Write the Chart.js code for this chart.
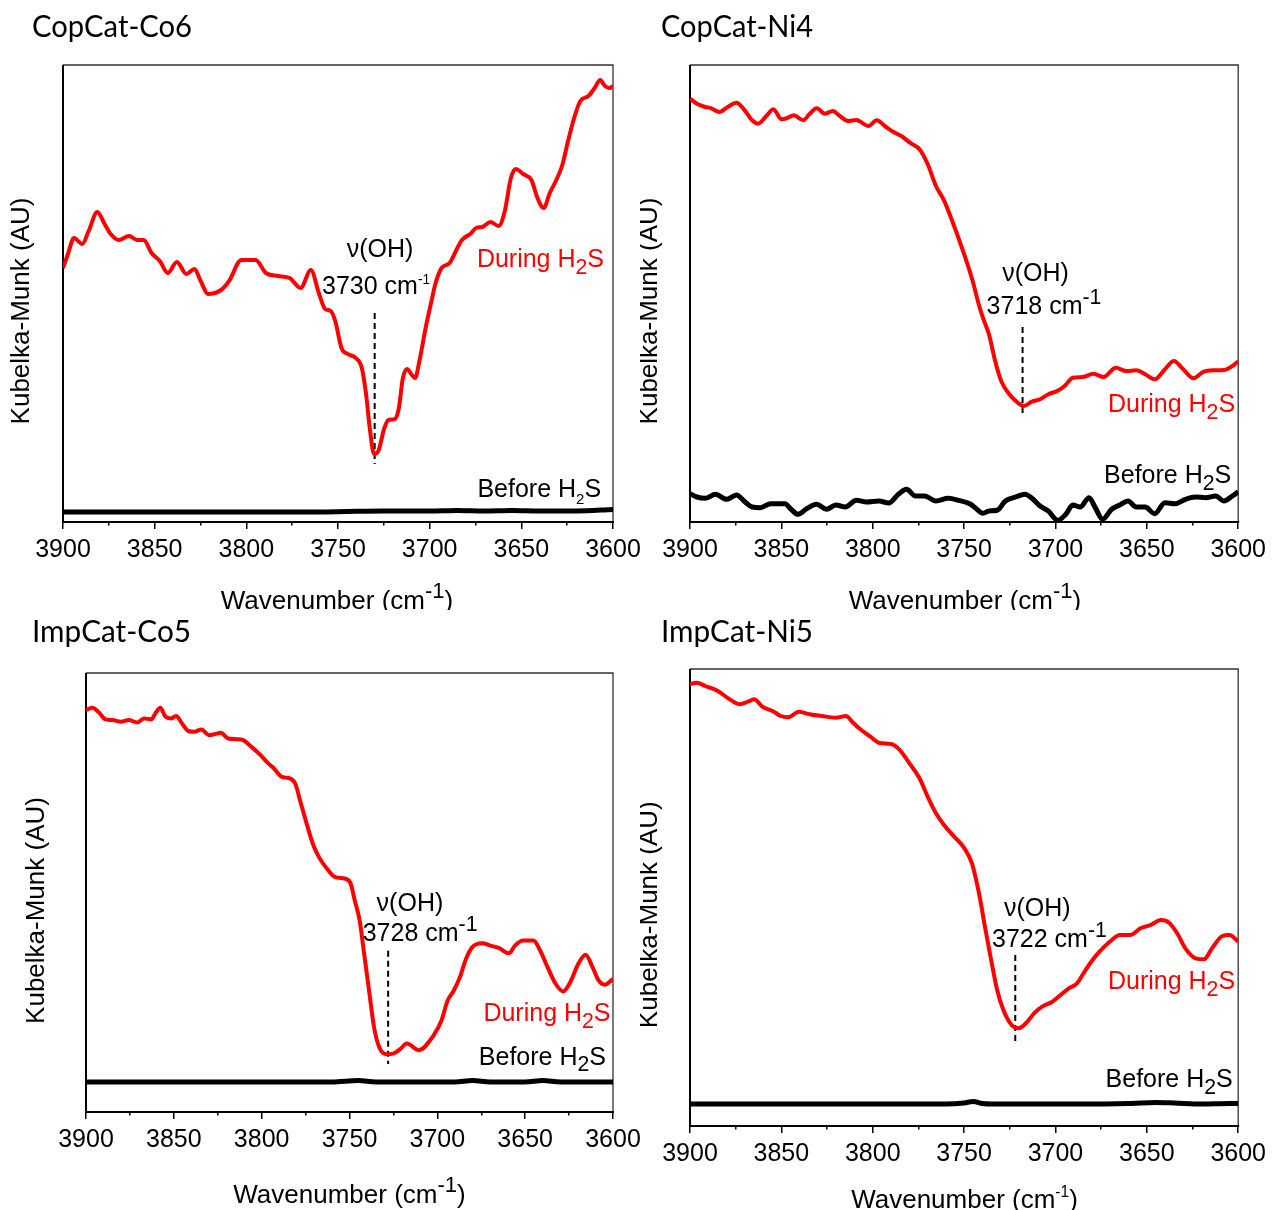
<!DOCTYPE html>
<html><head><meta charset="utf-8">
<script src="https://cdn.jsdelivr.net/npm/chart.js@4.4.1/dist/chart.umd.min.js"></script>
<style>
html,body{margin:0;padding:0;background:#fff;}
body{width:1272px;height:1210px;position:relative;overflow:hidden;}
canvas{position:absolute;}
</style></head><body>
<canvas id="c1" width="650" height="610" style="left:0px;top:0px"></canvas>
<canvas id="c2" width="632" height="610" style="left:640px;top:0px"></canvas>
<canvas id="c3" width="650" height="600" style="left:0px;top:610px"></canvas>
<canvas id="c4" width="632" height="600" style="left:640px;top:610px"></canvas>
<script>
// ---- data (wavenumber cm-1, Kubelka-Munk in arbitrary units) ----
const panelTitles = ['CopCat-Co6','CopCat-Ni4','ImpCat-Co5','ImpCat-Ni5'];
const xTickValues = [3900,3850,3800,3750,3700,3650,3600];
const peakPositions = [3730,3718,3728,3722];
const seriesNames = ['During H2S','Before H2S'];

const co6During = [[3900,254],[3897.3,268],[3894,284],[3889.5,278],[3886,291],[3881.3,310],[3877.3,298],[3874,288],[3869.5,282],[3864,286],[3859.5,282],[3856,282],[3851.7,269],[3847.2,261],[3842.8,249],[3837.9,260],[3832.7,248],[3828.3,253],[3824.9,241],[3820.9,228],[3813.8,232],[3809.4,241],[3802.7,262],[3794.9,262],[3789.3,249],[3782.6,246],[3776.4,244],[3770.4,234],[3764.8,252],[3760.3,228],[3757,213],[3754,211],[3751.5,201],[3748.1,174],[3744.7,168],[3740.3,164],[3737,154],[3734.7,128],[3732.5,91],[3730.3,68],[3728,71],[3724.7,94],[3722.5,102],[3719,103],[3716.8,114],[3714.6,144],[3712.3,153],[3710.1,148],[3707.9,144],[3705.6,161],[3702.2,194],[3699,221],[3696.9,238],[3693.5,254],[3689.1,259],[3685.7,271],[3682.4,282],[3677.9,288],[3674.6,294],[3671.3,295],[3666.8,300],[3662.4,296],[3659,311],[3655.7,344],[3653,353],[3649,348],[3644.5,342],[3641.2,324],[3637.8,314],[3634.5,329],[3631.2,341],[3627.8,356],[3624.5,381],[3621.2,404],[3617.8,421],[3613.4,426],[3610,434],[3607,442],[3604.4,436],[3601.8,434],[3600,436]];
const co6Before = [[3900,10],[3800,10],[3760,10],[3745,10.5],[3725,11],[3700,11],[3685,11.5],[3670,11],[3655,11.5],[3640,11],[3620,11],[3600,12.5]];

const ni4During = [[3900,423.3],[3896.2,418.3],[3891.7,415],[3888.4,413.7],[3883.9,410],[3879.4,415],[3874.5,419.3],[3870.5,412.7],[3866,401.7],[3862.7,398.3],[3858.2,406],[3854.4,412.7],[3849.9,402.7],[3846.3,404.3],[3843.2,406.7],[3838.1,401.7],[3834.7,407.7],[3830.7,413.7],[3826.2,408.3],[3821.8,411],[3818,406],[3813.5,401],[3809,402],[3802.3,396],[3797.8,401.7],[3793.4,396],[3788.9,390.3],[3784.4,386],[3778.8,378.3],[3774.4,372.7],[3769.9,357.7],[3765.4,336],[3761,321.7],[3756.5,301],[3750.9,272.7],[3745.3,241],[3742,217.7],[3739.7,204.3],[3736.4,187.7],[3733,161],[3729.7,141],[3725.2,127.7],[3720.7,119.3],[3717.3,116],[3712.9,120.3],[3708.4,122.7],[3703.9,127.7],[3698.3,131.7],[3695,136],[3690.5,144.3],[3684.9,145],[3679.3,148.3],[3673.7,145],[3667,154.3],[3661.4,151],[3655.8,151.7],[3650.9,147.7],[3645.7,142.7],[3640.1,152.7],[3635.2,161],[3630.1,152.7],[3624.5,143.7],[3618.9,150.3],[3613.3,151.7],[3607.7,152],[3603.2,156],[3600,160.7]];
const ni4Before = [[3900,28.3],[3896.2,25],[3891.7,23.7],[3886.1,27.7],[3879.9,22.7],[3874.5,27],[3870,20.3],[3866,15],[3861.5,14.3],[3855.9,18.3],[3848.1,18.3],[3844.7,12.7],[3840.9,7.7],[3835.8,13.7],[3830.7,17.7],[3825.3,12.7],[3820.2,17],[3815,15],[3809,21.7],[3803.4,20],[3796.7,21],[3791.2,19],[3786,27.7],[3781.5,32.7],[3776.6,26],[3771.7,26],[3765.4,21],[3758.7,23.7],[3753.1,21.7],[3746.4,17.7],[3743,12.7],[3739.7,8.7],[3736.4,11],[3731.9,11.7],[3727.4,21],[3721.8,25],[3716.7,27.7],[3712.9,23.7],[3708.4,16],[3703.9,11],[3698.8,1.7],[3694.3,7.7],[3690.5,17],[3686.5,15],[3681.6,24.3],[3678.2,14.3],[3674.2,2.7],[3669.3,12.7],[3664.8,17],[3660.3,21],[3655.8,15],[3650.9,15],[3645.7,8.3],[3640.1,19.3],[3634.5,18.3],[3628.9,22.7],[3623.4,25],[3617.8,24.3],[3612.3,26],[3607.8,21],[3603.2,26],[3600,30.3]];

const co5During = [[3900,401],[3896.5,403.3],[3893,399.3],[3888.8,391.7],[3884.9,391],[3880.2,389.3],[3875.6,391],[3870.9,388.7],[3867,392.7],[3862.8,391.7],[3860.5,397.7],[3857.7,403.3],[3854.7,394.3],[3851.6,392.7],[3848.8,395],[3845.3,387.7],[3841.9,380.3],[3838.4,379.3],[3834.4,381.7],[3829.8,376],[3826.7,377],[3823.3,378.3],[3819.1,372.7],[3814,372],[3810.5,371],[3805.8,364.3],[3801.2,357],[3796.5,348.3],[3793,342.7],[3788.4,334.3],[3783.7,332.7],[3780.9,327.7],[3777.9,309.3],[3774.4,287.7],[3770.9,267.7],[3767.4,254.3],[3762.8,242.7],[3758.1,234.3],[3752.3,232.7],[3749.3,227.7],[3747,211],[3744.2,191],[3741.9,161],[3739.1,124.3],[3736,84.3],[3733,64.3],[3729.1,57.7],[3725.1,58.3],[3721.2,62.7],[3717.4,68.3],[3710.5,61.7],[3702.3,76],[3697.7,91],[3694.2,111],[3690.7,121],[3687.2,134.3],[3683.7,152.7],[3680.2,164.3],[3674.4,168.3],[3669.8,166],[3665.1,163.7],[3659.3,158.3],[3655.8,166],[3651.2,171],[3645.3,171],[3641.9,162.7],[3637.2,144.3],[3632.6,127.7],[3628.4,120.3],[3624.4,129.3],[3619.8,147.7],[3615.6,157],[3611.6,144.3],[3608.1,131],[3604.7,127],[3600,132.7]];
const co5Before = [[3900,30],[3760,30],[3745,31.5],[3735,30],[3690,30],[3680,31.5],[3670,30],[3650,30],[3640,31.5],[3630,30],[3600,30]];

const ni5During = [[3900,442],[3896.2,443.3],[3891.7,440],[3885,435.3],[3878.3,426.7],[3872.7,421.7],[3868.3,424.3],[3864.9,426.7],[3860.4,419.3],[3854.8,415],[3850.3,410],[3846.3,408.7],[3840.3,414.3],[3834.7,411.7],[3828,410],[3820.2,408.3],[3814.6,410],[3811.3,404.3],[3806.8,396.7],[3801.2,389.3],[3796.7,383.3],[3790,382],[3785.5,376.7],[3779.9,362.7],[3774.4,347.7],[3769.9,329.3],[3765.4,312.7],[3761,301],[3755.4,289.3],[3749.8,277.7],[3745.7,262.7],[3743,242.7],[3740.8,222.7],[3738.6,199.3],[3735.2,166],[3731.9,136],[3728.5,116],[3724,101],[3720.3,97.7],[3716.2,102.7],[3711.7,112.7],[3707.3,119.3],[3701.7,124.3],[3697.2,131],[3692.7,137.7],[3688.2,142.7],[3684.9,152],[3680.4,164.3],[3675.9,174.3],[3670.3,184.3],[3664.7,191],[3659.1,191],[3653.5,197.7],[3647.9,201],[3642.3,206],[3637.8,203.3],[3633.4,192.7],[3628.9,177.7],[3623.3,167.7],[3618.8,166.7],[3614.3,177.7],[3608.7,190],[3604.7,191],[3600,184.3]];
const ni5Before = [[3900,22],[3760,22],[3750,23],[3745,24.5],[3740,22.5],[3735,22],[3690,22],[3660,22.5],[3645,23.5],[3635,23],[3620,22],[3605,22.5],[3600,22.5]];

// dashed peak marker extent (KM units: top, bottom)
const peakLineRange = [[209,58],[195,105],[161,48],[171,81]];
// vertical axis ranges
const yMaxima = [457,457,438,457];

// ---- layout / styling ----
const SANS = '"Liberation Sans", Arial, sans-serif';
const layouts = [
 {id:'c1', pad:{left:63,right:37,top:65,bottom:0}, xh:88, title:[32,26.5,160], yTitle:[22,311], xTitle:[337,600,0.85],
  nu:[3727.1,274], pk:[3758.7,237,0.55], dur:[3604.9,264,0.85], bef:[3606.5,34,0.6]},
 {id:'c2', pad:{left:50,right:33,top:65,bottom:0}, xh:88, title:[21,26.5,152], yTitle:[10,311], xTitle:[325,600,0.85],
  nu:[3710.9,250.3], pk:[3737.7,217,0.85], dur:[3601.7,118.7,0.85], bef:[3603.8,48,0.85]},
 {id:'c3', pad:{left:86,right:37,top:63,bottom:0}, xh:98, title:[32,20.8,159], yTitle:[37,300.5], xTitle:[349.5,583.3,0.85],
  nu:[3715.6,209.3], pk:[3742.5,179.3,0.85], dur:[3601.4,99.3,0.85], bef:[3604,56,0.85]},
 {id:'c4', pad:{left:50,right:33,top:59,bottom:0}, xh:84, title:[21,20.8,152], yTitle:[10,304.7], xTitle:[324.5,588.3,0.6],
  nu:[3709.9,219.3], pk:[3734.7,187.7,0.85], dur:[3601.7,146,0.85], bef:[3603,47.7,0.85]}
];
const duringSets = [co6During, ni4During, co5During, ni5During];
const beforeSets = [co6Before, ni4Before, co5Before, ni5Before];

function rich(ctx, parts, x, y, size, align, color, scl){
  let total = 0; const ws = [];
  for (const [t,k] of parts){ const s = k==='n'?size:size*scl; ctx.font = s+'px '+SANS; const w = ctx.measureText(t).width; ws.push(w); total += w; }
  let cx = align==='right' ? x-total : (align==='center' ? x-total/2 : x);
  ctx.fillStyle = color; ctx.textAlign = 'left'; ctx.textBaseline = 'alphabetic';
  parts.forEach(([t,k],i)=>{
    const s = k==='n'?size:size*scl; ctx.font = s+'px '+SANS;
    const dy = k==='sup' ? -size*0.42 : (k==='sub' ? size*0.26 : 0);
    ctx.fillText(t, cx, y+dy); cx += ws[i];
  });
}

function decor(i){
  const L = layouts[i];
  return {
    id:'decor'+i,
    beforeDatasetsDraw(chart){
      const ctx = chart.ctx, a = chart.chartArea;
      ctx.save();
      ctx.strokeStyle = '#333'; ctx.lineWidth = 1.3;
      ctx.beginPath(); ctx.moveTo(a.left, a.top); ctx.lineTo(a.right, a.top); ctx.lineTo(a.right, a.bottom); ctx.stroke();
      ctx.strokeStyle = '#000'; ctx.lineWidth = 2;
      ctx.beginPath(); ctx.moveTo(a.left, a.top); ctx.lineTo(a.left, a.bottom); ctx.lineTo(a.right+1, a.bottom); ctx.stroke();
      // dashed peak marker
      const xs = chart.scales.x, ys = chart.scales.y;
      const px = xs.getPixelForValue(peakPositions[i]);
      ctx.setLineDash([6,4]); ctx.lineWidth = 2; ctx.strokeStyle = '#000';
      ctx.beginPath(); ctx.moveTo(px, ys.getPixelForValue(peakLineRange[i][0])); ctx.lineTo(px, ys.getPixelForValue(peakLineRange[i][1])); ctx.stroke();
      ctx.restore();
    },
    afterDraw(chart){
      const ctx = chart.ctx, xs = chart.scales.x, ys = chart.scales.y;
      const S = 25;
      ctx.save();
      // panel title
      ctx.font = '30px Lato, "Open Sans", sans-serif';
      const tw = ctx.measureText(panelTitles[i]).width;
      ctx.translate(L.title[0], L.title[1] + 10.8);
      ctx.scale(L.title[2]/tw, 1);
      ctx.fillStyle = '#000'; ctx.textAlign = 'left'; ctx.textBaseline = 'alphabetic';
      ctx.fillText(panelTitles[i], 0, 0);
      ctx.restore();
      ctx.save();
      // y title
      ctx.translate(L.yTitle[0], L.yTitle[1]); ctx.rotate(-Math.PI/2);
      ctx.font = '26px '+SANS; ctx.fillStyle = '#000'; ctx.textAlign = 'center'; ctx.textBaseline = 'middle';
      ctx.fillText('Kubelka-Munk (AU)', 0, 0);
      ctx.restore();
      ctx.save();
      // x title
      rich(ctx, [['Wavenumber (cm','n'],['-1','sup'],[')','n']], L.xTitle[0], L.xTitle[1]+9.4, 26, 'center', '#000', L.xTitle[2]);
      // nu(OH)
      ctx.font = S+'px '+SANS; ctx.fillStyle = '#000'; ctx.textAlign = 'center'; ctx.textBaseline = 'alphabetic';
      ctx.fillText('\u03bd(OH)', xs.getPixelForValue(L.nu[0]), ys.getPixelForValue(L.nu[1]) + 9);
      rich(ctx, [[peakPositions[i]+' cm','n'],['-1','sup']], xs.getPixelForValue(L.pk[0]), ys.getPixelForValue(L.pk[1])+9, S, 'left', '#000', L.pk[2]);
      rich(ctx, [['During H','n'],['2','sub'],['S','n']], xs.getPixelForValue(L.dur[0]), ys.getPixelForValue(L.dur[1])+9, S, 'right', '#ff0000', L.dur[2]);
      rich(ctx, [['Before H','n'],['2','sub'],['S','n']], xs.getPixelForValue(L.bef[0]), ys.getPixelForValue(L.bef[1])+9, S, 'right', '#000', L.bef[2]);
      ctx.restore();
    }
  };
}

layouts.forEach((L,i)=>{
  new Chart(document.getElementById(L.id), {
    type:'line',
    data:{datasets:[
      {label:seriesNames[0], data:duringSets[i].map(([x,y])=>({x,y})), borderColor:'#ff0000', borderWidth:4, pointRadius:0, fill:false, cubicInterpolationMode:'monotone'},
      {label:seriesNames[1], data:beforeSets[i].map(([x,y])=>({x,y})), borderColor:'#000000', borderWidth:5, pointRadius:0, fill:false, cubicInterpolationMode:'monotone'}
    ]},
    options:{
      responsive:false, animation:false, devicePixelRatio:1,
      layout:{padding:L.pad},
      plugins:{legend:{display:false}, tooltip:{enabled:false}},
      scales:{
        x:{type:'linear', reverse:true, min:3600, max:3900,
          afterFit:(s)=>{ s.height = L.xh; },
          ticks:{stepSize:25, autoSkip:false, maxRotation:0, minRotation:0, padding:6, color:'#000',
                 font:{family:SANS, size:25},
                 callback:(v)=> xTickValues.includes(v) ? String(v) : ''},
          grid:{drawOnChartArea:false, drawTicks:true, tickLength:7, color:'#000', lineWidth:1.5,
                tickBorderDash:(c)=> (c.tick && !xTickValues.includes(c.tick.value)) ? [3.5,30] : []},
          border:{display:false}},
        y:{display:false, min:0, max:yMaxima[i]}
      }
    },
    plugins:[decor(i)]
  });
});
</script>
</body></html>
